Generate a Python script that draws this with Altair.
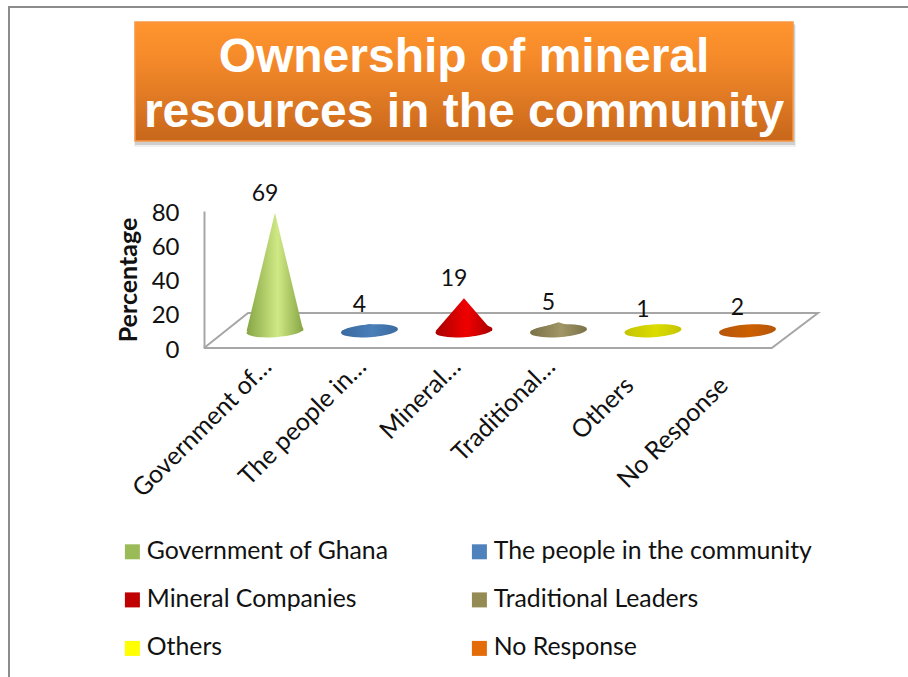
import altair as alt
import pandas as pd

# Survey responses, in display order
categories = ["Government of Ghana", "The people in the community", "Mineral Companies",
              "Traditional Leaders", "Others", "No Response"]
short_labels = ["Government of…", "The people in…", "Mineral…", "Traditional…", "Others", "No Response"]
values = [69, 4, 19, 5, 1, 2]
legend_colors = ["#9bbb59", "#4f81bd", "#c00000", "#948a54", "#ffff00", "#e36c09"]
edge_colors = ["#86a544", "#3a6aa0", "#a80000", "#7a7148", "#c4c400", "#b5560a"]
glow_colors = ["#cfe985", "#4a7fb8", "#f00000", "#a09666", "#dcdc00", "#cc6000"]
title_lines = ["Ownership of mineral", "resources in the community"]

# The cones stand on the middle of a floor that recedes from the axis plane
floor_lift = 10
cone_half_width = 0.30
floor_x = [-0.751, 5.257, 5.746, -0.285, -0.751]
floor_y = [0, 0, 20.4, 20.4, 0]

BODY_FONT = "Lato"
x_scale = alt.Scale(domain=[-0.751, 5.746], nice=False, zero=False)
y_scale = alt.Scale(domain=[0, 80], nice=False)
one_row = pd.DataFrame({"k": [0]})
ELLIPSE = "M-0.998,0.07 A1,0.22,-4,1,1,0.998,-0.07 A1,0.22,-4,1,1,-0.998,0.07 Z"

label_expr = "[" + ",".join(f"'{s}'" for s in short_labels) + "][datum.value]"

# Both axes are shared by every layer; the two untruncated labels hang lower along the slant
x_axis = alt.Axis(
    values=list(range(len(categories))), labelExpr=label_expr, title=None, domain=False, ticks=False,
    grid=False, labelAngle=-45, labelAlign="right", labelBaseline="middle",
    labelFont=BODY_FONT, labelFontSize=25, labelColor="#111111",
    labelPadding={"condition": {"test": "datum.value >= 4", "value": 33}, "value": 14},
    labelOffset={"condition": {"test": "datum.value >= 4", "value": -24}, "value": -8},
    labelOverlap=False, labelBound=False, labelFlush=False, labelLimit=400)
y_axis = alt.Axis(
    values=[0, 20, 40, 60, 80], title="Percentage", grid=False, ticks=False,
    domainColor="#a6a6a6", domainWidth=2, labelFont=BODY_FONT, labelFontSize=24,
    labelColor="#111111", labelPadding=25, labelOffset=2, labelOverlap=False, labelSeparation=0,
    titleFont=BODY_FONT, titleFontWeight="bold",
    titleFontSize=25, titleColor="#111111", titlePadding=10)


def panel_rect(x0, x1, y0, y1, **mark):
    return alt.Chart(one_row).mark_rect(**mark).encode(
        x=alt.value(x0), x2=alt.value(x1), y=alt.value(y0), y2=alt.value(y1))


def shade(edge, glow):
    return alt.Gradient(gradient="linear", x1=0, x2=1, y1=0, y2=0, stops=[
        alt.GradientStop(offset=0, color=edge),
        alt.GradientStop(offset=0.55, color=glow),
        alt.GradientStop(offset=1, color=edge)])


# Slide frame
frame = [
    alt.Chart(one_row).mark_rule(color="#8c8c8c", strokeWidth=2).encode(
        x=alt.value(-195), y=alt.value(-204), y2=alt.value(466)),
    alt.Chart(one_row).mark_rule(color="#8c8c8c", strokeWidth=2).encode(
        x=alt.value(-196), x2=alt.value(704), y=alt.value(-204)),
]

# Title banner with a soft drop shadow
banner = [
    panel_rect(-70, 592, -186, -64, fill="#000000", opacity=0.06),
    panel_rect(-69, 591, -187, -66, fill="#000000", opacity=0.14),
    panel_rect(-69, 589, -189, -70, stroke="#f79646", strokeWidth=1.5,
               fill=alt.Gradient(gradient="linear", x1=0, x2=0, y1=0, y2=1, stops=[
                   alt.GradientStop(offset=0, color="#ff952e"),
                   alt.GradientStop(offset=0.3, color="#f58a2a"),
                   alt.GradientStop(offset=1, color="#c8671b")])),
]
for line, baseline_y in zip(title_lines, [-139, -84]):
    banner.append(alt.Chart(pd.DataFrame({"t": [line]})).mark_text(
        font="Liberation Sans", fontWeight="bold", fontSize=48, color="white",
        align="center", baseline="alphabetic").encode(
        x=alt.value(260), y=alt.value(baseline_y), text="t:N"))

# Floor outline
floor = alt.Chart(pd.DataFrame({"x": floor_x, "y": floor_y, "o": range(len(floor_x))})).mark_line(
    color="#a6a6a6", strokeWidth=2, clip=False).encode(
    x=alt.X("x:Q", scale=x_scale, axis=x_axis),
    y=alt.Y("y:Q", scale=y_scale, axis=y_axis),
    order="o:Q")

# Colour key, fed by a zero-sized layer of squares
key = alt.Chart(pd.DataFrame({"c": categories, "i": range(6), "z": [0] * 6})).mark_square(size=0, opacity=1).encode(
    x=alt.X("i:Q", scale=x_scale, axis=x_axis),
    y=alt.Y("z:Q", scale=y_scale, axis=y_axis),
    color=alt.Color("c:N", sort=categories,
                    scale=alt.Scale(domain=categories, range=legend_colors),
                    legend=alt.Legend(orient="none", legendX=-84, legendY=328, columns=2, title=None,
                                      direction="horizontal",
                                      symbolType="square", symbolSize=225, symbolOpacity=1,
                                      symbolStrokeWidth=0, labelFont=BODY_FONT, labelFontSize=24.8,
                                      labelColor="#111111", labelOffset=2, labelLimit=400,
                                      columnPadding=78, rowPadding=22.5)))

# One cone per category: an elliptical base under a triangular body
cones = []
for i, (value, edge, glow) in enumerate(zip(values, edge_colors, glow_colors)):
    base = pd.DataFrame({"x": [i], "y": [floor_lift]})
    cones.append(alt.Chart(base).mark_point(
        shape=ELLIPSE, size=3249, filled=True, opacity=1, strokeWidth=0, fill=shade(edge, glow)).encode(
        x=alt.X("x:Q", scale=x_scale, axis=x_axis), y=alt.Y("y:Q", scale=y_scale, axis=y_axis)))
    body = pd.DataFrame({
        "x": [i - cone_half_width, i, i + cone_half_width],
        "top": [floor_lift, floor_lift + value, floor_lift],
        "bottom": [floor_lift] * 3,
    })
    cones.append(alt.Chart(body).mark_area(fill=shade(edge, glow), opacity=1, line=False).encode(
        x=alt.X("x:Q", scale=x_scale, axis=x_axis),
        y=alt.Y("top:Q", scale=y_scale, stack=None, axis=y_axis),
        y2="bottom:Q"))

# Value labels sit above each apex
labels = alt.Chart(pd.DataFrame({
    "x": list(range(6)), "y": [v + floor_lift for v in values], "v": values,
})).mark_text(font=BODY_FONT, fontSize=23, color="#111111", dx=-10, dy=-19, baseline="middle").encode(
    x=alt.X("x:Q", scale=x_scale, axis=x_axis), y=alt.Y("y:Q", scale=y_scale, axis=y_axis), text="v:Q")

chart = alt.layer(*frame, *banner, floor, key, *cones, labels).properties(
    width=614, height=137,
    padding={"left": 204, "top": 211, "right": 90, "bottom": 329},
    autosize=alt.AutoSizeParams(type="none"),
    background="white",
).configure_view(stroke=None)

chart.save("out.html", embed_options={"renderer": "svg", "actions": False})
